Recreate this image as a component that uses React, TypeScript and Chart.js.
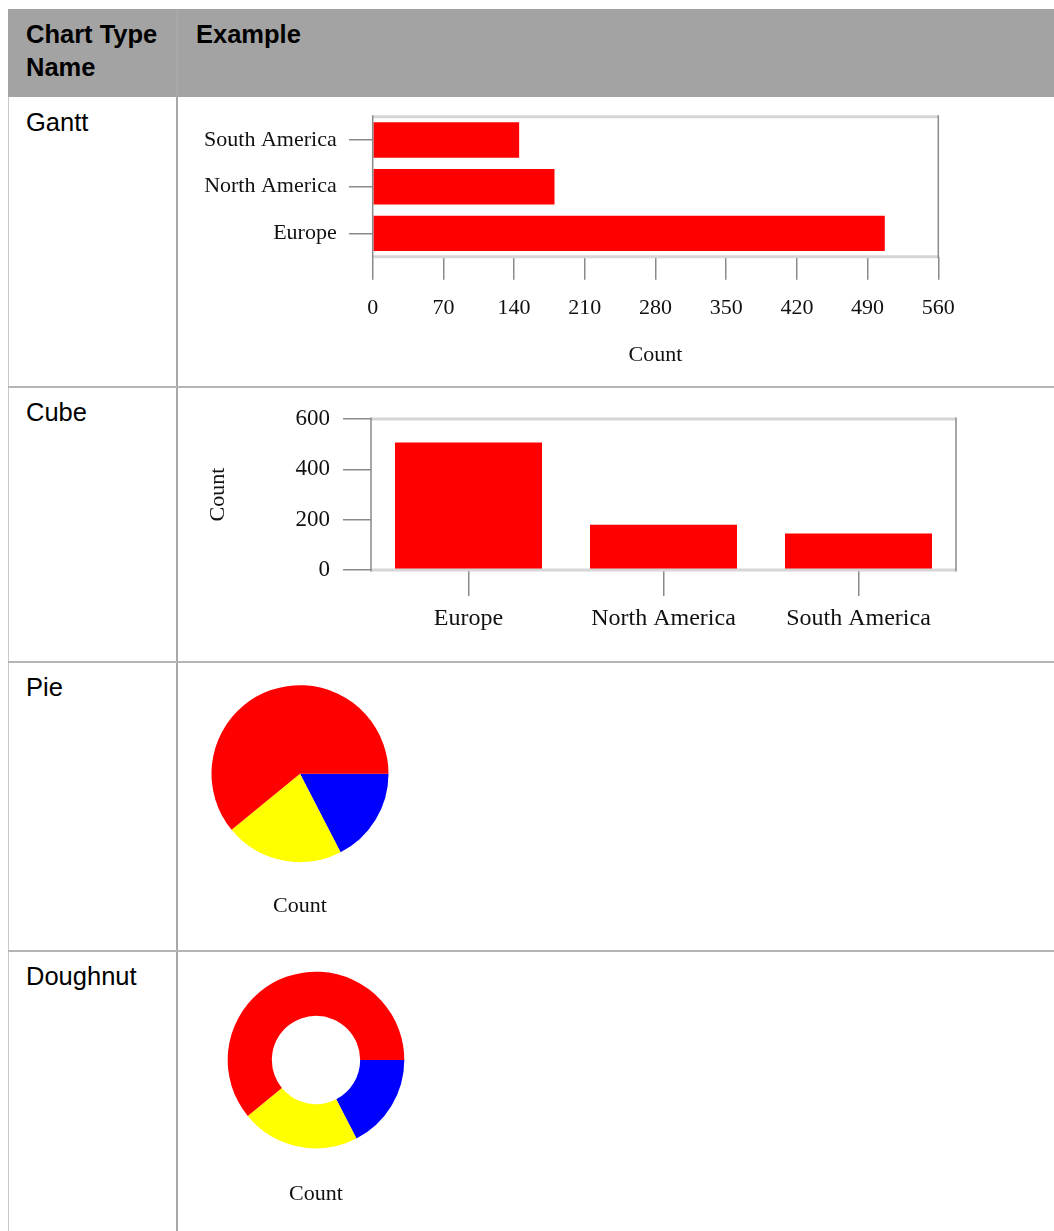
import React, { useEffect, useRef } from "react";
import { Chart, registerables } from "chart.js";

Chart.register(...registerables);

// ---- data ----
const regions = ["Europe", "North America", "South America"];
const counts = [507, 180, 145];
const sliceColors = ["#ff0000", "#ffff00", "#0000ff"];
const ganttTicks = [0, 70, 140, 210, 280, 350, 420, 490, 560];
const cubeTicks = [0, 200, 400, 600];
const valueTitle = "Count";
const headerCols = ["Chart Type\nName", "Example"];
const rowNames = ["Gantt", "Cube", "Pie", "Doughnut"];

// ---- layout constants ----
const ROW_TOPS = [97, 387, 662, 951];
const SERIF = "'Liberation Serif', 'Times New Roman', serif";
const SANS = "'Liberation Sans', Arial, Helvetica, sans-serif";
const TICK_GRAY = "#8a8a8a";
const TEXT = "#111111";

const framePlugin = {
  id: "frame",
  afterDatasetsDraw(chart: any) {
    const { ctx, chartArea: a } = chart;
    ctx.save();
    ctx.strokeStyle = "#d6d6d6";
    ctx.lineWidth = 3;
    ctx.beginPath();
    ctx.moveTo(a.left, a.top);
    ctx.lineTo(a.right, a.top);
    ctx.moveTo(a.left, a.bottom);
    ctx.lineTo(a.right, a.bottom);
    ctx.stroke();
    ctx.strokeStyle = TICK_GRAY;
    ctx.lineWidth = 1.5;
    ctx.beginPath();
    ctx.moveTo(a.left, a.top - 1.5);
    ctx.lineTo(a.left, a.bottom + 1.5);
    ctx.moveTo(a.right, a.top - 1.5);
    ctx.lineTo(a.right, a.bottom + 1.5);
    ctx.stroke();
    ctx.restore();
  },
};

function ticksFrom(values: number[]) {
  return (scale: any) => {
    scale.ticks = values.map((v) => ({ value: v }));
  };
}

function fixSize(prop: "width" | "height", size: number) {
  return (s: any) => {
    s[prop] = size;
    s.paddingTop = 0;
    s.paddingBottom = 0;
    s.paddingLeft = 0;
    s.paddingRight = 0;
  };
}

const ganttConfig: any = {
  type: "bar",
  data: {
    labels: regions,
    datasets: [
      {
        data: counts,
        backgroundColor: "#ff0000",
        borderWidth: 0,
        barPercentage: 0.76,
        categoryPercentage: 1,
      },
    ],
  },
  plugins: [framePlugin],
  options: {
    indexAxis: "y",
    animation: false,
    responsive: true,
    maintainAspectRatio: false,
    layout: { padding: { top: 19.7, right: 114.7, bottom: 18.8, left: 0 } },
    plugins: { legend: { display: false }, tooltip: { enabled: false } },
    scales: {
      x: {
        type: "linear",
        min: 0,
        max: 560,
        afterBuildTicks: ticksFrom(ganttTicks),
        grid: { drawOnChartArea: false, drawTicks: true, tickLength: 23, color: TICK_GRAY, lineWidth: 1.5 },
        border: { display: false },
        ticks: { padding: 15, autoSkip: false, maxRotation: 0, color: TEXT, font: { family: SERIF, size: 22 } },
        title: { display: true, text: valueTitle, padding: 0, color: TEXT, font: { family: SERIF, size: 22 } },
        afterFit: fixSize("height", 111.5),
      },
      y: {
        reverse: true,
        grid: { drawOnChartArea: false, offset: false, drawTicks: true, tickLength: 23.7, color: TICK_GRAY, lineWidth: 1.5 },
        border: { display: false },
        ticks: { padding: 12.3, color: TEXT, font: { family: SERIF, size: 22 } },
        afterFit: fixSize("width", 195.7),
      },
    },
  },
};

const cubeConfig: any = {
  type: "bar",
  data: {
    labels: regions,
    datasets: [
      {
        data: counts,
        backgroundColor: "#ff0000",
        borderWidth: 0,
        barPercentage: 0.754,
        categoryPercentage: 1,
      },
    ],
  },
  plugins: [framePlugin],
  options: {
    animation: false,
    responsive: true,
    maintainAspectRatio: false,
    layout: { padding: { top: 32, right: 97, bottom: 0, left: 0 } },
    plugins: { legend: { display: false }, tooltip: { enabled: false } },
    scales: {
      x: {
        grid: { drawOnChartArea: false, offset: false, drawTicks: true, tickLength: 26, color: TICK_GRAY, lineWidth: 1.5 },
        border: { display: false },
        ticks: { padding: 8.6, maxRotation: 0, autoSkip: false, color: TEXT, font: { family: SERIF, size: 24 } },
        afterFit: fixSize("height", 92),
      },
      y: {
        type: "linear",
        min: 0,
        max: 600,
        afterBuildTicks: ticksFrom(cubeTicks),
        grid: { drawOnChartArea: false, drawTicks: true, tickLength: 28, color: TICK_GRAY, lineWidth: 1.5 },
        border: { display: false },
        ticks: { padding: 13, color: TEXT, font: { family: SERIF, size: 23 } },
        title: { display: true, text: valueTitle, padding: { top: 27.8, bottom: 0 }, color: TEXT, font: { family: SERIF, size: 22 } },
        afterFit: fixSize("width", 194),
      },
    },
  },
};

function roundConfig(type: string, cutout: string, padTop: number, titlePad: number, padBottom: number): any {
  // slices are listed in reverse so that, drawn clockwise from 3 o'clock,
  // they appear counter-clockwise in the original order
  const labels = [...regions].reverse();
  const data = [...counts].reverse();
  const colors = [...sliceColors].reverse();
  return {
    type,
    data: {
      labels,
      datasets: [{ data, backgroundColor: colors, borderWidth: 0, hoverOffset: 0 }],
    },
    options: {
      animation: false,
      responsive: true,
      maintainAspectRatio: false,
      rotation: 90,
      cutout,
      layout: { padding: { top: padTop, bottom: padBottom, left: 0, right: 0 } },
      plugins: {
        legend: { display: false },
        tooltip: { enabled: false },
        title: {
          display: true,
          position: "bottom",
          text: valueTitle,
          color: TEXT,
          font: { family: SERIF, size: 22, weight: "normal" },
          padding: { top: titlePad, bottom: 0 },
        },
      },
    },
  };
}

const pieConfig = roundConfig("pie", "0%", 23.2, 31.3, 31.1);
const doughnutConfig = roundConfig("doughnut", "50%", 20.7, 32.5, 23.8);

function ChartBox({ config, left, top, width, height }: any) {
  const ref = useRef<HTMLCanvasElement>(null);
  useEffect(() => {
    const chart = new Chart(ref.current as HTMLCanvasElement, config);
    return () => chart.destroy();
  }, [config]);
  return (
    <div style={{ position: "absolute", left, top, width, height }}>
      <canvas ref={ref} />
    </div>
  );
}

function Line({ left, top, width, height, color }: any) {
  return <div style={{ position: "absolute", left, top, width, height, background: color }} />;
}

const textStyle: any = {
  position: "absolute",
  fontFamily: SANS,
  fontSize: 25.5,
  lineHeight: "33px",
  color: "#000",
  whiteSpace: "pre",
  margin: 0,
};

export default function App() {
  const charts = [
    { config: ganttConfig, left: 177, top: ROW_TOPS[0], width: 876, height: 290 },
    { config: cubeConfig, left: 177, top: ROW_TOPS[1], width: 876, height: 275 },
    { config: pieConfig, left: 180, top: ROW_TOPS[2], width: 240, height: 289 },
    { config: doughnutConfig, left: 196, top: ROW_TOPS[3], width: 240, height: 280 },
  ];
  return (
    <div
      style={{
        position: "fixed",
        left: 0,
        top: 0,
        width: 1054,
        height: 1231,
        overflow: "hidden",
        background: "#fff",
      }}
    >
      {/* header */}
      <Line left={8} top={9} width={1046} height={88} color="#a3a3a3" />
      <div style={{ ...textStyle, left: 26, top: 18, fontWeight: "bold" }}>{headerCols[0]}</div>
      <div style={{ ...textStyle, left: 196, top: 18, fontWeight: "bold" }}>{headerCols[1]}</div>
      {/* borders */}
      <Line left={8} top={97} width={1} height={1134} color="#c8c8c8" />
      <Line left={176} top={9} width={2} height={1222} color="#a8a8a8" />
      {ROW_TOPS.slice(1).map((y) => (
        <Line key={y} left={8} top={y - 1} width={1046} height={2} color="#b4b4b4" />
      ))}
      {/* row names */}
      {rowNames.map((n, i) => (
        <div key={n} style={{ ...textStyle, left: 26, top: ROW_TOPS[i] + 9 }}>
          {n}
        </div>
      ))}
      {charts.map((c, i) => (
        <ChartBox key={i} {...c} />
      ))}
    </div>
  );
}
